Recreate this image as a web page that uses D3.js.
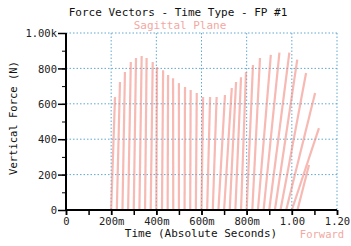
<!DOCTYPE html>
<html>
<head>
<meta charset="utf-8">
<script src="https://cdn.jsdelivr.net/npm/d3@7"></script>
<style>
  body { margin: 0; background: #fff; }
  text { font-family: "DejaVu Sans Mono", monospace; }
</style>
</head>
<body>
<div id="chart"></div>
<script>
// force vectors: each one goes from (start time, 0) up to (top time, vertical force)
var vecStart = [0.200, 0.225, 0.250, 0.275, 0.300, 0.325, 0.350, 0.375, 0.400, 0.425,
                0.450, 0.475, 0.500, 0.525, 0.550, 0.575, 0.600, 0.625, 0.650, 0.675,
                0.700, 0.725, 0.750, 0.775, 0.800, 0.825, 0.850, 0.875, 0.900, 0.925,
                0.950, 0.975, 1.000, 1.025];
var vecTop = [0.217, 0.239, 0.261, 0.287, 0.310, 0.335, 0.357, 0.384, 0.403, 0.430,
              0.452, 0.474, 0.500, 0.527, 0.552, 0.579, 0.607, 0.638, 0.667, 0.704,
              0.734, 0.753, 0.775, 0.797, 0.828, 0.859, 0.907, 0.945, 0.989, 1.024,
              1.063, 1.103, 1.120, 1.076];
var vecForce = [638, 723, 780, 836, 859, 870, 859, 836, 808, 790,
                763, 745, 717, 695, 678, 661, 638, 638, 638, 650,
                689, 723, 750, 780, 819, 859, 876, 889, 889, 850,
                774, 661, 463, 254];

var xTicks = [0, 0.2, 0.4, 0.6, 0.8, 1.0, 1.2];
var xTickLabels = ["0", "200m", "400m", "600m", "800m", "1.00", "1.20"];
var yTicks = [0, 200, 400, 600, 800, 1000];
var yTickLabels = ["0", "200", "400", "600", "800", "1.00k"];

var margin = { top: 33, right: 14, bottom: 36, left: 66 },
    width = 351 - margin.left - margin.right,
    height = 246 - margin.top - margin.bottom;

var svg = d3.select("#chart").append("svg")
  .attr("width", 351)
  .attr("height", 246);

// soft look of the original vectors
svg.append("defs").append("filter")
  .attr("id", "soft")
  .append("feGaussianBlur").attr("stdDeviation", 0.45);

var g = svg.append("g")
  .attr("transform", "translate(" + margin.left + "," + margin.top + ")");

var x = d3.scaleLinear().domain([0, 1.2]).range([0, width]);
var y = d3.scaleLinear().domain([0, 1000]).range([height, 0]);

// dotted grid
g.selectAll(".gx")
  .data(xTicks.slice(1))
  .enter().append("line")
    .attr("x1", function (d) { return x(d); })
    .attr("x2", function (d) { return x(d); })
    .attr("y1", 0).attr("y2", height)
    .attr("stroke", "#5fa9d2")
    .attr("stroke-width", 1)
    .attr("stroke-dasharray", "1.5,2");
g.selectAll(".gy")
  .data(yTicks.slice(1))
  .enter().append("line")
    .attr("x1", 0).attr("x2", width)
    .attr("y1", function (d) { return y(d); })
    .attr("y2", function (d) { return y(d); })
    .attr("stroke", "#5fa9d2")
    .attr("stroke-width", 1)
    .attr("stroke-dasharray", "1.5,2");

// the vectors
var vectors = vecStart.map(function (t, i) {
  return { t0: t, t1: vecTop[i], f: vecForce[i] };
});
g.append("g")
  .attr("filter", "url(#soft)")
  .selectAll(".vec")
  .data(vectors)
  .enter().append("line")
    .attr("class", "vec")
    .attr("x1", function (d) { return x(d.t0); })
    .attr("y1", y(0))
    .attr("x2", function (d) { return x(d.t1); })
    .attr("y2", function (d) { return y(d.f); })
    .attr("stroke", "#f08a80")
    .attr("stroke-opacity", 0.6)
    .attr("stroke-width", 2.2);

// y axis: minor then major ticks
g.append("g")
  .call(d3.axisLeft(y).tickValues(d3.range(0, 1001, 100)).tickSize(4).tickFormat(""))
  .call(function (a) { a.select(".domain").remove(); });
var yAxis = g.append("g")
  .call(d3.axisLeft(y).tickValues(yTicks).tickSize(8).tickPadding(1)
    .tickFormat(function (d, i) { return yTickLabels[i]; }));
yAxis.select(".domain").attr("stroke-width", 2).attr("d", "M0,0V" + height);
yAxis.selectAll("line").attr("stroke-width", 1.5);
yAxis.selectAll("text").style("font-size", "10.5px").attr("fill", "#222").attr("dy", "0.35em");

// x axis
var xAxisG = g.append("g")
  .attr("transform", "translate(0," + height + ")");
xAxisG.append("g")
  .call(d3.axisBottom(x).tickValues(d3.range(0, 13).map(function (k) { return k / 10; }))
    .tickSize(5).tickFormat(""))
  .call(function (a) { a.select(".domain").remove(); });
var xAxis = xAxisG.append("g")
  .call(d3.axisBottom(x).tickValues(xTicks).tickSize(5).tickPadding(3)
    .tickFormat(function (d, i) { return xTickLabels[i]; }));
xAxis.select(".domain").attr("stroke-width", 2).attr("d", "M0,0H" + width);
xAxisG.selectAll("line").attr("stroke-width", 1.5);
xAxis.selectAll("text").style("font-size", "10.5px").attr("fill", "#222");

// titles
svg.append("text")
  .attr("x", 178).attr("y", 16)
  .attr("text-anchor", "middle")
  .style("font-size", "11px")
  .attr("fill", "#111")
  .text("Force Vectors - Time Type - FP #1");
svg.append("text")
  .attr("x", 180).attr("y", 29)
  .attr("text-anchor", "middle")
  .style("font-size", "11px")
  .attr("fill", "#f2a8a2")
  .text("Sagittal Plane");
svg.append("text")
  .attr("x", 201).attr("y", 237)
  .attr("text-anchor", "middle")
  .style("font-size", "11px")
  .attr("fill", "#111")
  .text("Time (Absolute Seconds)");
svg.append("text")
  .attr("x", 322).attr("y", 238)
  .attr("text-anchor", "middle")
  .style("font-size", "10.5px")
  .attr("fill", "#f2a8a2")
  .text("Forward");
svg.append("text")
  .attr("transform", "translate(17,118) rotate(-90)")
  .attr("text-anchor", "middle")
  .style("font-size", "10.5px")
  .attr("fill", "#111")
  .text("Vertical Force (N)");
</script>
</body>
</html>
